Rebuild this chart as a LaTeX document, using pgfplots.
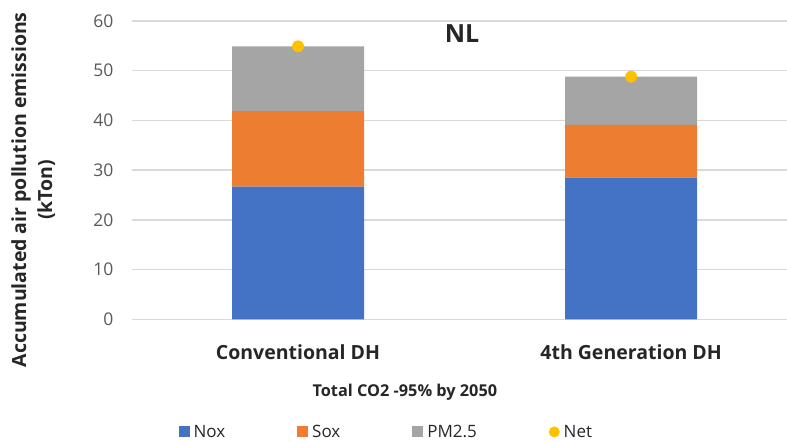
\documentclass[border=0pt]{standalone}
\usepackage{pgfplots}
\pgfplotsset{compat=1.18}
\usepackage{fontspec}
\setmainfont{Open Sans}
\definecolor{noxc}{HTML}{4472C4}
\definecolor{soxc}{HTML}{ED7D31}
\definecolor{pmc}{HTML}{A5A5A5}
\definecolor{netc}{HTML}{FFC000}
\definecolor{gridc}{HTML}{D9D9D9}
\definecolor{tickc}{HTML}{595959}
\definecolor{titc}{HTML}{262626}
\begin{document}
\begin{tikzpicture}
\useasboundingbox (0pt,0pt) rectangle (787pt,442pt);
\begin{axis}[
  at={(131.5pt,122.6pt)}, anchor=south west,
  scale only axis, width=655.5pt, height=298.4pt,
  xmin=-0.5, xmax=1.468, ymin=0, ymax=60,
  ybar stacked, bar width=132pt,
  axis line style={draw=none},
  major tick length=0pt,
  /pgf/number format/assume math mode=true,
  ymajorgrids, grid style={gridc, line width=1.5pt},
  ytick={0,10,...,60},
  xtick={0,1}, xticklabels={Conventional DH, 4th Generation DH},
  yticklabel style={anchor=east, inner sep=0pt, xshift=-18pt, font=\fontsize{17.5}{21}\selectfont, text=tickc},
  xticklabel style={anchor=center, inner sep=0pt, yshift=-32.6pt, font=\fontsize{19.5}{23}\selectfont\bfseries, text=titc},
  xlabel={Total CO2 -95\% by 2050},
  xlabel style={at={(axis description cs:0.417,-0.243)}, anchor=center, inner sep=0pt, font=\fontsize{16.3}{20}\selectfont\bfseries, text=titc},
  ylabel={Accumulated air pollution emissions\\(kTon)},
  ylabel style={at={(axis description cs:-0.150,0.434)}, anchor=center, inner sep=0pt, align=center, font=\fontsize{19.5}{26}\selectfont\bfseries, text=titc},
  legend style={at={(0.388,-0.377)}, anchor=center, draw=none, fill=none, legend columns=4,
    font=\fontsize{17}{21}\selectfont, text=titc,
    nodes={inner sep=1pt},
    /tikz/every odd column/.append style={column sep=3pt},
    /tikz/every even column/.append style={column sep=71pt}},
  legend cell align=left,
]
\addplot[fill=noxc, draw=none, legend image code/.code={\fill[noxc] (-5.5pt,-5.5pt) rectangle (5.5pt,5.5pt);}] coordinates {(0,26.7) (1,28.5)};
\addlegendentry{Nox}
\addplot[fill=soxc, draw=none, legend image code/.code={\fill[soxc] (-5.5pt,-5.5pt) rectangle (5.5pt,5.5pt);}] coordinates {(0,15.2) (1,10.6)};
\addlegendentry{Sox}
\addplot[fill=pmc, draw=none, legend image code/.code={\fill[pmc] (-5.5pt,-5.5pt) rectangle (5.5pt,5.5pt);}] coordinates {(0,13.0) (1,9.7)};
\addlegendentry{PM2.5}
\addlegendimage{legend image code/.code={\fill[netc] (0pt,0pt) circle (5.2pt);}}
\addlegendentry{Net}
\node[font=\fontsize{25}{30}\selectfont\bfseries, text=titc] at (axis cs:0.4925,57.4) {NL};
\end{axis}
\begin{axis}[
  at={(131.5pt,122.6pt)}, anchor=south west,
  scale only axis, width=655.5pt, height=298.4pt,
  xmin=-0.5, xmax=1.468, ymin=0, ymax=60,
  hide axis, clip=false,
]
\addplot[only marks, mark=*, mark size=5.7pt, color=netc] coordinates {(0,54.9) (1,48.8)};
\end{axis}
\end{tikzpicture}
\end{document}
